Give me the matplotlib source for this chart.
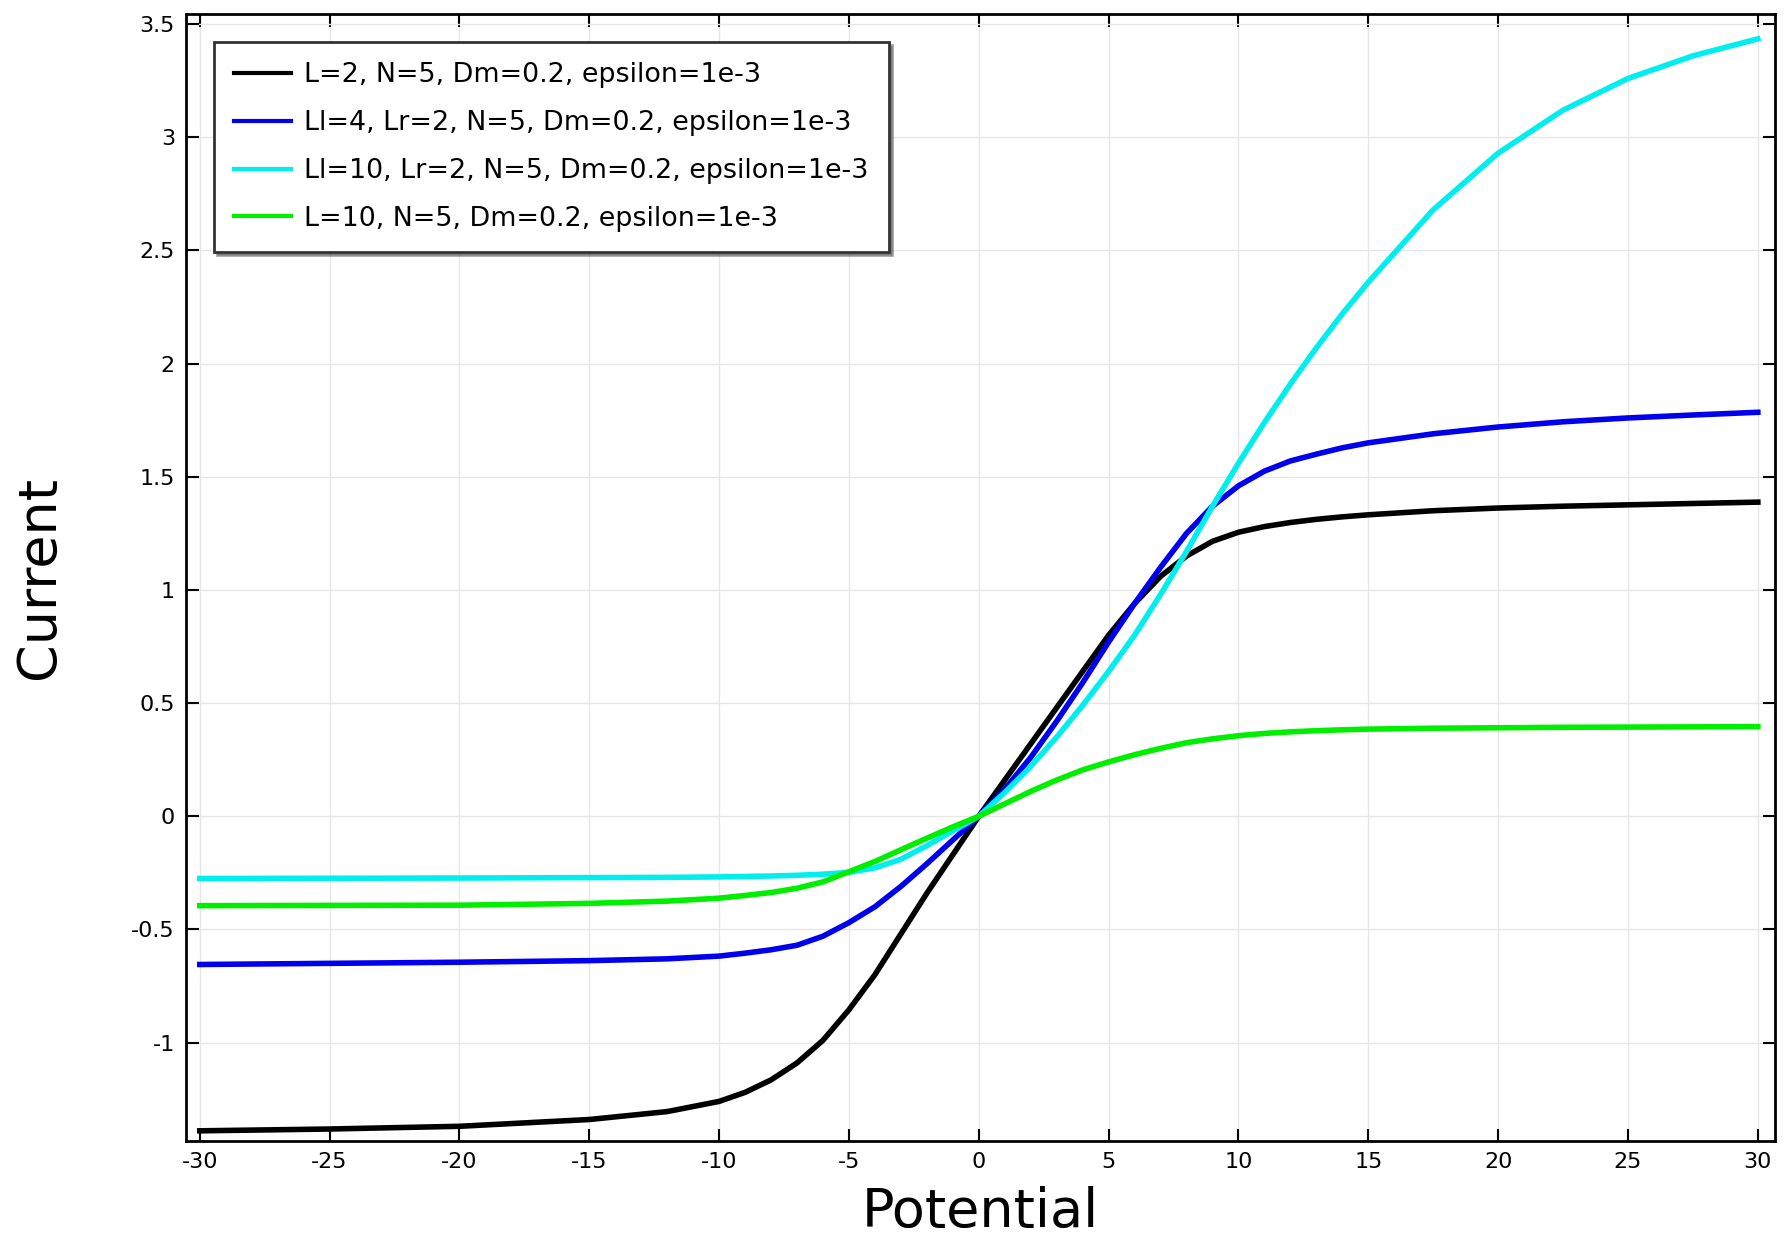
import matplotlib
matplotlib.use("Agg")
import matplotlib.pyplot as plt
from matplotlib.ticker import FormatStrFormatter, MultipleLocator

plt.rcParams['axes.unicode_minus'] = False
plt.rcParams['font.family'] = 'DejaVu Sans'

# potential values
potential = [-30, -25, -20, -15, -12, -10, -9, -8, -7, -6, -5, -4, -3, -2, -1, 0,
             1, 2, 3, 4, 5, 6, 7, 8, 9, 10, 11, 12, 13, 14, 15,
             17.5, 20, 22.5, 25, 27.5, 30]

# current for each run
cur_l2 = [-1.39, -1.382, -1.37, -1.34, -1.305, -1.26, -1.22, -1.165, -1.09, -0.99, -0.855,
          -0.70, -0.52, -0.34, -0.17, 0.0,
          0.16, 0.32, 0.48, 0.64, 0.80, 0.94, 1.06, 1.15, 1.215, 1.255, 1.28, 1.298, 1.312,
          1.323, 1.332, 1.35, 1.362, 1.37, 1.376, 1.382, 1.388]
cur_l4 = [-0.655, -0.65, -0.645, -0.638, -0.63, -0.618, -0.605, -0.59, -0.57, -0.53, -0.47,
          -0.40, -0.31, -0.21, -0.105, 0.0,
          0.12, 0.26, 0.42, 0.59, 0.77, 0.94, 1.10, 1.25, 1.37, 1.46, 1.525, 1.57, 1.60,
          1.628, 1.65, 1.69, 1.72, 1.743, 1.76, 1.773, 1.785]
cur_l10r2 = [-0.275, -0.274, -0.273, -0.271, -0.27, -0.268, -0.266, -0.264, -0.261, -0.256,
             -0.248, -0.228, -0.19, -0.13, -0.065, 0.0,
             0.105, 0.22, 0.35, 0.49, 0.64, 0.80, 0.98, 1.17, 1.37, 1.56, 1.74, 1.91, 2.07,
             2.22, 2.36, 2.68, 2.93, 3.12, 3.26, 3.36, 3.435]
cur_l10 = [-0.395, -0.394, -0.393, -0.385, -0.375, -0.362, -0.35, -0.337, -0.318, -0.29,
           -0.245, -0.20, -0.148, -0.097, -0.047, 0.0,
           0.055, 0.11, 0.16, 0.205, 0.24, 0.272, 0.30, 0.325, 0.342, 0.356, 0.366, 0.373,
           0.378, 0.382, 0.385, 0.389, 0.391, 0.393, 0.394, 0.395, 0.396]

labels = ['L=2, N=5, Dm=0.2, epsilon=1e-3',
          'Ll=4, Lr=2, N=5, Dm=0.2, epsilon=1e-3',
          'Ll=10, Lr=2, N=5, Dm=0.2, epsilon=1e-3',
          'L=10, N=5, Dm=0.2, epsilon=1e-3']
colors = ['black', '#0000ee', '#00eeee', '#00ee00']

fig = plt.figure(figsize=(17.92, 12.37), dpi=100)
ax = fig.add_axes([0.1038, 0.0776, 0.8867, 0.9111])

for ys, lab, c in zip([cur_l2, cur_l4, cur_l10r2, cur_l10], labels, colors):
    ax.plot(potential, ys, color=c, lw=4, label=lab, solid_joinstyle='round')

ax.set_xlim(-30.53, 30.66)
ax.set_ylim(-1.435, 3.545)
ax.xaxis.set_major_locator(MultipleLocator(5))
ax.yaxis.set_major_locator(MultipleLocator(0.5))
ax.xaxis.set_major_formatter(FormatStrFormatter('%g'))
ax.yaxis.set_major_formatter(FormatStrFormatter('%g'))
ax.tick_params(direction='in', top=True, right=True, length=9, width=1.5,
               labelsize=16, pad=8)
for sp in ax.spines.values():
    sp.set_linewidth(2)
ax.grid(True, color='#e6e6e6', lw=1)

ax.set_xlabel('Potential', fontsize=39)
ax.set_ylabel('Current', fontsize=39)
ax.xaxis.set_label_coords(0.5, -0.04)
ax.yaxis.set_label_coords(-0.076, 0.5)

leg = ax.legend(loc='upper left', bbox_to_anchor=(0.0176, 0.975), borderaxespad=0,
                fontsize=19.4, frameon=True, fancybox=False, shadow=True,
                handlelength=2.1, handletextpad=0.5, labelspacing=0.81, borderpad=0.75)
leg.get_frame().set_edgecolor('#333333')
leg.get_frame().set_linewidth(2)
for h in leg.get_lines():
    h.set_linewidth(3)

fig.savefig('out.png', dpi=100)
